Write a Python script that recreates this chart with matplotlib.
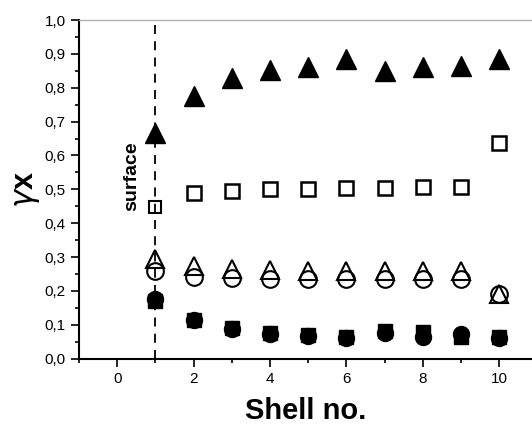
import matplotlib.pyplot as plt
from matplotlib.ticker import MultipleLocator, FuncFormatter

plt.rcParams['font.family'] = ['Liberation Sans', 'DejaVu Sans']

shell = [1, 2, 3, 4, 5, 6, 7, 8, 9, 10]

# filled triangles
tri_filled = [0.665, 0.775, 0.83, 0.852, 0.862, 0.885, 0.85, 0.862, 0.865, 0.885]
# open squares
sq_open = [0.449, 0.488, 0.496, 0.500, 0.502, 0.505, 0.505, 0.506, 0.507, 0.636]
# open triangles
tri_open = [0.295, 0.275, 0.265, 0.262, 0.260, 0.258, 0.258, 0.258, 0.258, 0.19]
# open circles
circ_open = [0.258, 0.242, 0.238, 0.236, 0.236, 0.235, 0.235, 0.235, 0.235, 0.19]
# filled circles
circ_filled = [0.176, 0.114, 0.087, 0.073, 0.068, 0.060, 0.075, 0.065, 0.073, 0.062]
# filled squares
sq_filled = [0.170, 0.115, 0.090, 0.076, 0.070, 0.063, 0.082, 0.080, 0.065, 0.063]

fig = plt.figure(figsize=(5.32, 4.26), dpi=100)
ax = fig.add_axes([0.1485, 0.158, 0.8515, 0.795])

ax.plot(shell, sq_filled, 's', color='black', ms=10.5, ls='none', zorder=3)
ax.plot(shell, circ_filled, 'o', color='black', ms=11.5, ls='none', zorder=3)
ax.plot(shell, circ_open, 'o', mfc='white', mec='black', mew=1.5, ms=12, ls='none', zorder=3)
ax.plot(shell, tri_open, '^', mfc='none', mec='black', mew=1.5, ms=13, ls='none', zorder=4)
ax.plot(shell[1:], sq_open[1:], 's', mfc='white', mec='black', mew=1.8, ms=10.5, ls='none', zorder=3)
ax.plot(shell[:1], sq_open[:1], 's', mfc='white', mec='black', mew=1.5, ms=9, ls='none', zorder=3)
ax.plot(shell, tri_filled, '^', color='black', ms=14, ls='none', zorder=3)

ax.axvline(1, color='black', ls=(0, (5, 4)), lw=1.3, zorder=5)
ax.text(0.37, 0.54, 'surface', rotation=90, ha='center', va='center',
        fontsize=14, fontweight='bold')

ax.set_xlim(-1, 10.86)
ax.set_ylim(0, 1.0)
ax.xaxis.set_major_locator(MultipleLocator(2))
ax.xaxis.set_minor_locator(MultipleLocator(1))
ax.yaxis.set_major_locator(MultipleLocator(0.1))
ax.yaxis.set_minor_locator(MultipleLocator(0.05))
ax.yaxis.set_major_formatter(FuncFormatter(lambda v, p: f'{v:.1f}'.replace('.', ',')))
ax.tick_params(which='both', direction='out', labelsize=11, width=1.2)
ax.tick_params(which='major', length=6)
ax.tick_params(which='minor', length=3)

ax.spines['right'].set_visible(False)
ax.spines['top'].set_color('#b0b0b0')
ax.spines['top'].set_linewidth(1.0)
ax.spines['left'].set_linewidth(1.5)
ax.spines['bottom'].set_linewidth(1.5)

ax.set_xlabel('Shell no.', fontsize=21, fontweight='bold', labelpad=8)
ax.set_ylabel(r'$\gamma$x', fontsize=22, fontweight='bold', labelpad=2)

fig.savefig('out.png', dpi=100)
